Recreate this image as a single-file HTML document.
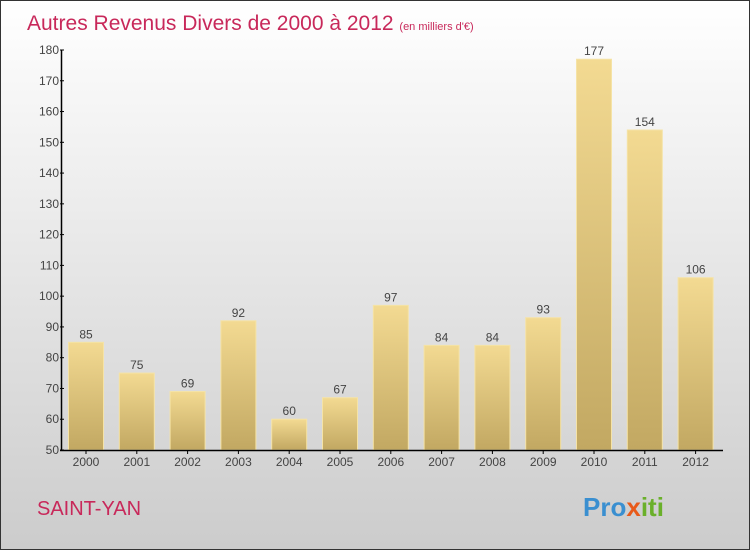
<!DOCTYPE html>
<html><head><meta charset="utf-8"><style>
body{margin:0}
#wrap{position:relative;width:748px;height:548px;border:1px solid #333;background:linear-gradient(#ffffff,#cccccc);overflow:hidden;font-family:"Liberation Sans",sans-serif}
svg{position:absolute;left:0;top:0}
</style></head><body>
<div id="wrap">
<svg id="chart" width="748" height="548">
<defs>
<linearGradient id="bg" x1="0" y1="0" x2="0" y2="1"><stop offset="0" stop-color="#f3da92"/><stop offset="1" stop-color="#c2a862"/></linearGradient>
</defs>
<text x="26" y="29" font-size="21" fill="#c8285a">Autres Revenus Divers de 2000 à 2012 <tspan font-size="11">(en milliers d'€)</tspan></text>
<text x="36" y="514" font-size="20" fill="#c8285a">SAINT-YAN</text>
<text x="582" y="515" font-size="26" font-weight="bold"><tspan fill="#3a8fd0">Pro</tspan><tspan fill="#e85a1a">x</tspan><tspan fill="#6ab02a">iti</tspan></text>
</svg>
</div>
<script>
const categories=["2000","2001","2002","2003","2004","2005","2006","2007","2008","2009","2010","2011","2012"];
const values=[85,75,69,92,60,67,97,84,84,93,177,154,106];
const yTicks=[50,60,70,80,90,100,110,120,130,140,150,160,170,180];
const svg=document.getElementById('chart');
const NS='http://www.w3.org/2000/svg';
const y0=449,y1=49,vmin=50,vmax=180;
const yS=v=>y0-(v-vmin)/(vmax-vmin)*(y0-y1);
const xS=i=>85+i*50.8;
function mk(t,a,p){const e=document.createElementNS(NS,t);for(const k in a)e.setAttribute(k,a[k]);(p||svg).appendChild(e);return e;}
categories.forEach((c,i)=>{
  const cx=xS(i),w=35,top=yS(values[i]);
  const b=mk('rect',{x:cx-w/2,y:top,width:w,height:y0-top,fill:'url(#bg)',stroke:'#f5e3a6','stroke-width':1});
  
  
  const l=mk('text',{x:cx,y:top-4,'font-size':12,fill:'#444','text-anchor':'middle'});
  l.textContent=values[i];
  
  
  mk('line',{x1:cx,x2:cx,y1:y0,y2:y0+4,stroke:'#000'});
  const t=mk('text',{x:cx,y:y0+16,'font-size':12,fill:'#444','text-anchor':'middle'});
  t.textContent=c;
  
  
});
yTicks.forEach(v=>{
  const y=yS(v);
  mk('line',{x1:59,x2:63,y1:y,y2:y,stroke:'#000'});
  const t=mk('text',{x:58,y:y+4,'font-size':12,fill:'#444','text-anchor':'end'});
  t.textContent=v;
  
  
});
const ya=mk('line',{x1:60.5,x2:60.5,y1:y1,y2:y0+1,stroke:'#000','stroke-width':1.5});


const xa=mk('line',{x1:59,x2:722,y1:y0+0.5,y2:y0+0.5,stroke:'#000','stroke-width':1.5});


</script>
</body></html>
